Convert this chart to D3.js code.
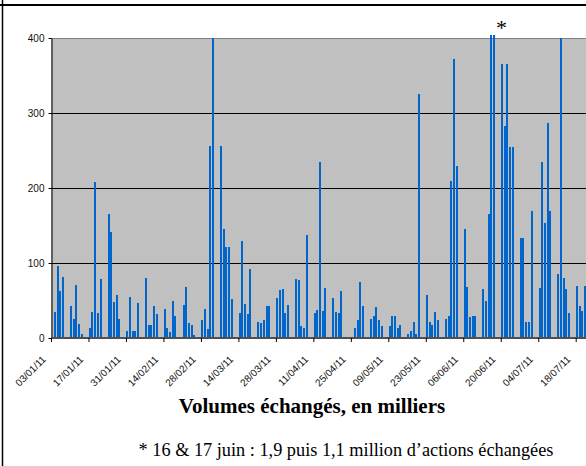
<!DOCTYPE html>
<html>
<head>
<meta charset="utf-8">
<script src="https://cdn.jsdelivr.net/npm/d3@7"></script>
<style>
  body { margin: 0; background: #fff; }
  svg { display: block; }
</style>
</head>
<body>
<svg id="chart" width="586" height="466"></svg>
<script>
// one row of five trading days (Mon..Fri) per week, volumes in thousands
const weekStarts = [
  "2011-01-03", "2011-01-10", "2011-01-17", "2011-01-24", "2011-01-31",
  "2011-02-07", "2011-02-14", "2011-02-21", "2011-02-28", "2011-03-07",
  "2011-03-14", "2011-03-21", "2011-03-28", "2011-04-04", "2011-04-11",
  "2011-04-18", "2011-04-25", "2011-05-02", "2011-05-09", "2011-05-16",
  "2011-05-23", "2011-05-30", "2011-06-06", "2011-06-13", "2011-06-20",
  "2011-06-27", "2011-07-04", "2011-07-11", "2011-07-18"
];
const volumes = [
  [0, 35, 96, 63, 82],
  [43, 26, 71, 19, 6],
  [14, 35, 208, 33, 79],
  [165, 141, 48, 57, 26],
  [10, 55, 10, 10, 47],
  [80, 17, 17, 43, 32],
  [39, 13, 8, 49, 30],
  [44, 68, 20, 17, 4],
  [24, 39, 12, 256, 400],
  [256, 145, 121, 122, 52],
  [33, 129, 45, 32, 92],
  [22, 20, 24, 43, 43],
  [53, 64, 65, 33, 44],
  [79, 78, 16, 14, 138],
  [33, 37, 235, 36, 67],
  [53, 35, 33, 63, 0],
  [0, 14, 24, 75, 43],
  [26, 29, 41, 24, 16],
  [16, 30, 29, 13, 18],
  [6, 9, 22, 6, 325],
  [57, 22, 17, 35, 24],
  [26, 30, 210, 372, 229],
  [145, 68, 28, 29, 30],
  [65, 49, 166, 1900, 1100],
  [365, 283, 365, 255, 255],
  [133, 133, 22, 22, 170],
  [67, 235, 154, 287, 170],
  [86, 400, 80, 65, 33],
  [70, 43, 36, 70]
];
const yTicks = [0, 100, 200, 300, 400];
const xTickLabels = [
  "03/01/11", "17/01/11", "31/01/11", "14/02/11", "28/02/11", "14/03/11", "28/03/11", "11/04/11",
  "25/04/11", "09/05/11", "23/05/11", "06/06/11", "20/06/11", "04/07/11", "18/07/11"
];
const axisTitle = "Volumes échangés, en milliers";
const footNote = "* 16 & 17 juin : 1,9 puis 1,1 million d’actions échangées";

const parseIso = d3.utcParse("%Y-%m-%d");
const parseLabel = d3.utcParse("%d/%m/%y");

const rows = [];
weekStarts.forEach((w, i) => {
  volumes[i].forEach((v, k) => {
    rows.push({ date: d3.utcDay.offset(parseIso(w), k), value: v });
  });
});

const svg = d3.select("#chart");
const plotLeft = 51, plotTop = 38, plotBottom = 338;

const x = d3.scaleUtc()
  .domain([parseLabel("03/01/11"), parseLabel("18/07/11")])
  .range([plotLeft, 575.7]);
const dayW = x(parseLabel("04/01/11")) - x(parseLabel("03/01/11"));
const y = d3.scaleLinear().domain([0, 400]).range([plotBottom, plotTop]);

// plot area
svg.append("rect")
  .attr("x", plotLeft).attr("y", plotTop)
  .attr("width", 600 - plotLeft).attr("height", plotBottom - plotTop)
  .attr("fill", "#c0c0c0");

svg.selectAll(".grid")
  .data(yTicks.filter(t => t > 0))
  .enter().append("line")
  .attr("x1", plotLeft).attr("x2", 600)
  .attr("y1", d => Math.round(y(d)) + 0.5).attr("y2", d => Math.round(y(d)) + 0.5)
  .attr("stroke", d => d === 400 ? "#808080" : "#000")
  .attr("stroke-width", 1);

// bars (values above the axis max are cut just over the top line)
svg.append("g")
  .selectAll("rect")
  .data(rows.filter(d => d.value > 0))
  .enter().append("rect")
  .attr("x", d => x(d.date) + dayW / 2 - 1)
  .attr("width", 2)
  .attr("y", d => y(Math.min(d.value, 404)))
  .attr("height", d => plotBottom - y(Math.min(d.value, 404)))
  .attr("fill", "#0066cc")
  .attr("shape-rendering", "crispEdges");

// y axis
const yAxis = svg.append("g")
  .attr("transform", `translate(${plotLeft + 0.5},0)`)
  .call(d3.axisLeft(y).tickValues(yTicks).tickSize(3).tickSizeOuter(0));
yAxis.select(".domain").attr("stroke", "#000");
yAxis.selectAll("text")
  .attr("x", -7)
  .attr("font-family", "Liberation Sans, Arial, sans-serif")
  .attr("font-size", "10px")
  .attr("fill", "#111");

// x axis
const xAxis = svg.append("g")
  .attr("transform", `translate(0,${plotBottom})`)
  .call(d3.axisBottom(x)
    .tickValues(xTickLabels.map(parseLabel))
    .tickSize(4).tickSizeOuter(0)
    .tickFormat(d3.utcFormat("%d/%m/%y")));
xAxis.select(".domain")
  .attr("d", `M${plotLeft},0H600`)
  .attr("stroke", "#505050")
  .attr("stroke-width", 2);
xAxis.selectAll(".tick line").attr("stroke", "#000");
xAxis.selectAll("text")
  .attr("x", 0).attr("y", 0).attr("dy", 0)
  .attr("transform", "translate(-5,22) rotate(-45)")
  .attr("text-anchor", "end")
  .attr("font-family", "Liberation Sans, Arial, sans-serif")
  .attr("font-size", "10px")
  .attr("fill", "#111");

// asterisk over the 16-17 June bars
svg.append("text")
  .attr("x", 501.5).attr("y", 35)
  .attr("text-anchor", "middle")
  .attr("font-family", "Liberation Serif, Times New Roman, serif")
  .attr("font-size", "22px")
  .text("*");

svg.append("text")
  .attr("x", 312).attr("y", 413)
  .attr("text-anchor", "middle")
  .attr("font-family", "Liberation Serif, Times New Roman, serif")
  .attr("font-weight", "bold")
  .attr("font-size", "21px")
  .text(axisTitle);

svg.append("text")
  .attr("x", 346).attr("y", 456)
  .attr("text-anchor", "middle")
  .attr("font-family", "Liberation Serif, Times New Roman, serif")
  .attr("font-size", "18.3px")
  .text(footNote);

// cell borders of the surrounding table
svg.append("line")
  .attr("x1", 0).attr("x2", 586).attr("y1", 5).attr("y2", 5)
  .attr("stroke", "#000").attr("stroke-width", 2);
svg.append("line")
  .attr("x1", 2.5).attr("x2", 2.5).attr("y1", 0).attr("y2", 466)
  .attr("stroke", "#000").attr("stroke-width", 1.5);
</script>
</body>
</html>
